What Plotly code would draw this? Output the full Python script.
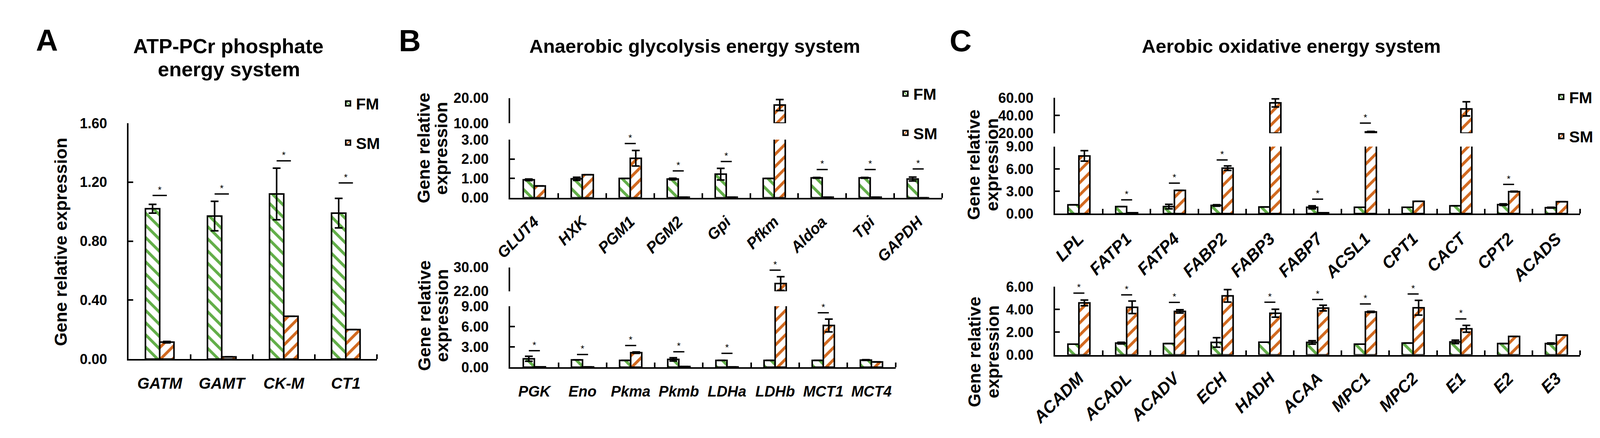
import plotly.graph_objects as go

# ---------------- data ----------------
genes_A = ["GATM", "GAMT", "CK-M", "CT1"]
fm_A = [1.02, 0.97, 1.12, 0.99]
fm_A_err = [0.03, 0.10, 0.175, 0.10]
sm_A = [0.115, 0.015, 0.29, 0.20]
sm_A_err = [0.005, None, None, None]
sig_A = [1.11, 1.12, 1.345, 1.195]
ticks_A = [0.0, 0.4, 0.8, 1.2, 1.6]

genes_B1 = ["GLUT4", "HXK", "PGM1", "PGM2", "Gpi", "Pfkm", "Aldoa", "Tpi", "GAPDH"]
fm_B1 = [0.93, 0.98, 1.00, 0.97, 1.22, 1.00, 1.03, 1.03, 0.97]
fm_B1_err = [0.04, 0.08, None, 0.04, 0.30, None, 0.02, 0.02, 0.10]
sm_B1 = [0.61, 1.19, 2.04, 0.03, 0.03, 17.2, 0.03, 0.03, 0.0]
sm_B1_err = [None, None, 0.40, None, None, 2.2, None, None, None]
sig_B1 = [None, None, 2.80, 1.39, 1.87, 22.0, 1.46, 1.46, 1.49]
ticks_B1_low = [0, 1, 2, 3]
ticks_B1_high = [10, 20]

genes_B2 = ["PGK", "Eno", "Pkma", "Pkmb", "LDHa", "LDHb", "MCT1", "MCT4"]
fm_B2 = [1.24, 1.07, 1.00, 1.15, 1.00, 1.00, 1.00, 1.05]
fm_B2_err = [0.37, None, None, 0.25, None, None, None, 0.05]
sm_B2 = [0.05, 0.03, 2.14, 0.10, 0.03, 24.6, 6.15, 0.78]
sm_B2_err = [None, None, 0.10, None, None, 2.3, 0.95, None]
sig_B2 = [2.44, 1.87, 3.20, 2.28, 2.05, 29.1, 8.03, None]
ticks_B2_low = [0, 3, 6, 9]
ticks_B2_high = [22, 30]

genes_C1 = ["LPL", "FATP1", "FATP4", "FABP2", "FABP3", "FABP7", "ACSL1", "CPT1", "CACT", "CPT2", "ACADS"]
fm_C1 = [1.18, 0.95, 0.95, 1.10, 0.90, 0.85, 0.85, 0.85, 1.05, 1.21, 0.80]
fm_C1_err = [None, None, 0.30, 0.10, None, 0.20, None, None, None, 0.10, 0.05]
sm_C1 = [7.75, 0.12, 3.12, 6.10, 54.3, 0.12, 21.5, 1.65, 47.5, 2.96, 1.60]
sm_C1_err = [0.70, None, None, 0.30, 4.6, None, 0.5, None, 8.0, 0.05, None]
sig_C1 = [9.16, 1.85, 4.10, 7.20, 65.8, 1.95, 31.4, None, 63.9, 3.92, None]
ticks_C1_low = [0, 3, 6, 9]
ticks_C1_high = [20, 40, 60]

genes_C2 = ["ACADM", "ACADL", "ACADV", "ECH", "HADH", "ACAA", "MPC1", "MPC2", "E1", "E2", "E3"]
fm_C2 = [0.95, 1.04, 1.00, 1.10, 1.12, 1.10, 0.95, 1.04, 1.15, 1.00, 1.00]
fm_C2_err = [None, 0.07, None, 0.42, None, 0.15, None, None, 0.15, None, 0.05]
sm_C2 = [4.58, 4.19, 3.83, 5.20, 3.67, 4.12, 3.79, 4.15, 2.30, 1.63, 1.75]
sm_C2_err = [0.25, 0.55, 0.15, 0.55, 0.35, 0.25, 0.05, 0.65, 0.30, None, None]
sig_C2 = [5.44, 5.28, 4.62, 6.18, 4.64, 4.88, 4.48, 5.36, 3.17, None, None]
ticks_C2 = [0, 2, 4, 6]

series_names = ["FM", "SM"]

# ---------------- style ----------------
W, H = 4353, 1120
PAGE_MARGIN = 8          # default body margin of the html page
FONT = "Liberation Sans, Arial, sans-serif"
GREEN = "#62AE48"
ORANGE = "#D2691F"
BW = 0.23          # bar width in category units
LW = 4


def fx(px):
    return (px - PAGE_MARGIN) / (W - 2 * PAGE_MARGIN)


def fy(py):
    return 1 - (py - PAGE_MARGIN) / H


fig = go.Figure()


def bar_marker(color, shape):
    return dict(color=color, line=dict(color="black", width=LW),
                pattern=dict(shape=shape, fgcolor=color, bgcolor="white",
                             size=22, solidity=0.33, fillmode="replace"))


def err(arr, vals=None, vmax=None):
    out = []
    for i, e in enumerate(arr):
        if vals is not None and vmax is not None and vals[i] > vmax:
            out.append(None)
        else:
            out.append(e)
    return dict(type="data", array=out, color="black", thickness=4, width=10, visible=True)


def add_chart(genes, fm, fm_e, sm, sm_e, sig, xa, ylo, yhi, lo_max, hi_min, legend, showlegend):
    idx = list(range(len(genes)))
    x_fm = [i - BW / 2 for i in idx]
    x_sm = [i + BW / 2 for i in idx]
    lim = lo_max if yhi else None
    fig.add_trace(go.Bar(x=x_fm, y=fm, width=BW, marker=bar_marker(GREEN, "\\"),
                         error_y=err(fm_e, fm, lim), name=series_names[0], legend=legend,
                         legendgroup=legend + "fm", showlegend=showlegend,
                         xaxis=xa, yaxis=ylo))
    fig.add_trace(go.Bar(x=x_sm, y=sm, width=BW, marker=bar_marker(ORANGE, "/"),
                         error_y=err(sm_e, sm, lim), name=series_names[1], legend=legend,
                         legendgroup=legend + "sm", showlegend=showlegend,
                         xaxis=xa, yaxis=ylo))
    if yhi:
        hx, hy, he = [], [], []
        for i in idx:
            if sm[i] > lo_max:
                hx.append(x_sm[i])
                hy.append(sm[i] - hi_min)
                he.append(sm_e[i])
        fig.add_trace(go.Bar(x=hx, y=hy, base=hi_min, width=BW, marker=bar_marker(ORANGE, "/"),
                             error_y=dict(type="data", array=he, color="black", thickness=4, width=10),
                             showlegend=False, cliponaxis=False, xaxis=xa, yaxis=yhi))
    # significance markers
    groups = {ylo: ([], [], [], [])}
    if yhi:
        groups[yhi] = ([], [], [], [])
    for i in idx:
        s = sig[i]
        if s is None:
            continue
        ax = yhi if (yhi and s > lo_max) else ylo
        lx, ly, tx, ty = groups[ax]
        lx += [x_fm[i], x_sm[i], None]
        ly += [s, s, None]
        tx.append(i)
        ty.append(s)
    for ax, (lx, ly, tx, ty) in groups.items():
        if not tx:
            continue
        fig.add_trace(go.Scatter(x=lx, y=ly, mode="lines", line=dict(color="black", width=3.5),
                                 showlegend=False, cliponaxis=False, hoverinfo="skip",
                                 xaxis=xa, yaxis=ax))
        fig.add_trace(go.Scatter(x=tx, y=ty, mode="text", text=["*"] * len(tx),
                                 textposition="top center",
                                 textfont=dict(family=FONT, size=24, color="black"),
                                 showlegend=False, cliponaxis=False, hoverinfo="skip",
                                 xaxis=xa, yaxis=ax))


add_chart(genes_A, fm_A, fm_A_err, sm_A, sm_A_err, sig_A, "x", "y", None, 1.6, None, "legend", True)
add_chart(genes_B1, fm_B1, fm_B1_err, sm_B1, sm_B1_err, sig_B1, "x2", "y2", "y3", 3, 10, "legend2", True)
add_chart(genes_B2, fm_B2, fm_B2_err, sm_B2, sm_B2_err, sig_B2, "x3", "y4", "y5", 9, 22, "legend2", False)
add_chart(genes_C1, fm_C1, fm_C1_err, sm_C1, sm_C1_err, sig_C1, "x4", "y6", "y7", 9, 20, "legend3", True)
add_chart(genes_C2, fm_C2, fm_C2_err, sm_C2, sm_C2_err, sig_C2, "x5", "y8", None, 6, None, "legend3", False)


def xaxis(genes, x0, x1, yanchor, size, angle, standoff):
    n = len(genes)
    return dict(domain=[fx(x0), fx(x1)], range=[-0.5, n - 0.5], anchor=yanchor,
                tickmode="array", tickvals=list(range(n)), ticktext=genes, ticks="",
                tickangle=angle, ticklabelstandoff=standoff,
                tickfont=dict(family=FONT, size=size, color="black", weight="bold", style="italic"),
                showline=True, linecolor="black", linewidth=LW, showgrid=False, zeroline=False,
                minor=dict(tickmode="array", tickvals=[k + 0.5 for k in range(n)], ticks="inside",
                           ticklen=12, tickwidth=LW, tickcolor="black", showgrid=False),
                fixedrange=True)


def yaxis(ticks, py0, py1, xanchor, rng):
    return dict(domain=[fy(py0), fy(py1)], range=rng, anchor=xanchor,
                tickmode="array", tickvals=ticks, ticktext=["%.2f" % t for t in ticks],
                ticks="inside", ticklen=12, tickwidth=LW, tickcolor="black",
                ticklabelstandoff=44,
                tickfont=dict(family=FONT, size=36, color="black", weight="bold"),
                showline=True, linecolor="black", linewidth=LW, showgrid=False, zeroline=False,
                fixedrange=True)


layout = dict(
    height=H, autosize=True, margin=dict(l=0, r=0, t=0, b=0),
    paper_bgcolor="white", plot_bgcolor="white", barmode="overlay",
    font=dict(family=FONT, color="black"),
    xaxis=xaxis(genes_A, 286, 972, "y", 40, 0, 24),
    yaxis=yaxis(ticks_A, 932, 306, "x", [0, 1.6]),
    xaxis2=xaxis(genes_B1, 1341, 2535, "y2", 40, -45, 18),
    yaxis2=yaxis(ticks_B1_low, 504, 349.5, "x2", [0, 3]),
    yaxis3=yaxis(ticks_B1_high, 306, 239, "x2", [10, 20]),
    xaxis3=xaxis(genes_B2, 1341, 2406, "y4", 38, 0, 26),
    yaxis4=yaxis(ticks_B2_low, 953.5, 791.7, "x3", [0, 9]),
    yaxis5=yaxis(ticks_B2_high, 752, 688.8, "x3", [22, 30]),
    xaxis4=xaxis(genes_C1, 2847, 4299, "y6", 43, -45, 18),
    yaxis6=yaxis(ticks_C1_low, 546, 368, "x4", [0, 9]),
    yaxis7=yaxis(ticks_C1_high, 332.4, 238.6, "x4", [20, 60]),
    xaxis5=xaxis(genes_C2, 2847, 4299, "y8", 43, -45, 14),
    yaxis8=yaxis(ticks_C2, 921, 740, "x5", [0, 6]),
)

legfont = dict(family=FONT, size=41, color="black", weight="bold")
for name, lx, ly in [("legend", 871, 250), ("legend2", 2412, 224), ("legend3", 4225, 233)]:
    layout[name] = dict(x=fx(lx), y=fy(ly - 31), xanchor="left", yanchor="top",
                        font=legfont, traceorder="grouped", tracegroupgap=44,
                        bgcolor="rgba(0,0,0,0)", borderwidth=0)

fig.update_layout(**layout)

annots = []


def text(t, x, y, size, angle=0, xanchor="center", weight="bold"):
    annots.append(dict(text=t, x=fx(x), y=fy(y), xref="paper", yref="paper",
                       xanchor=xanchor, yanchor="middle", showarrow=False, textangle=angle,
                       font=dict(family=FONT, size=size, color="black", weight=weight)))


# panel letters
text("A", 27, 86, 78, xanchor="left")
text("B", 1031, 87, 78, xanchor="left")
text("C", 2553, 87, 78, xanchor="left")
# titles
text("ATP-PCr phosphate", 561, 101, 52)
text("energy system", 563, 163, 52)
text("Anaerobic glycolysis energy system", 1851, 101, 49)
text("Aerobic oxidative energy system", 3500, 101, 49)
# y-axis titles
text("Gene relative expression", 98, 621, 45, angle=-90)
for (x1, x2, yc) in [(1102, 1150, 372), (1103, 1152, 816), (2622, 2672, 416), (2624, 2675, 913)]:
    text("Gene relative", x1, yc, 45, angle=-90)
    text("expression", x2, yc, 45, angle=-90)

fig.update_layout(annotations=annots)
fig.write_html("out.html", default_width="100%", default_height="%dpx" % H)
